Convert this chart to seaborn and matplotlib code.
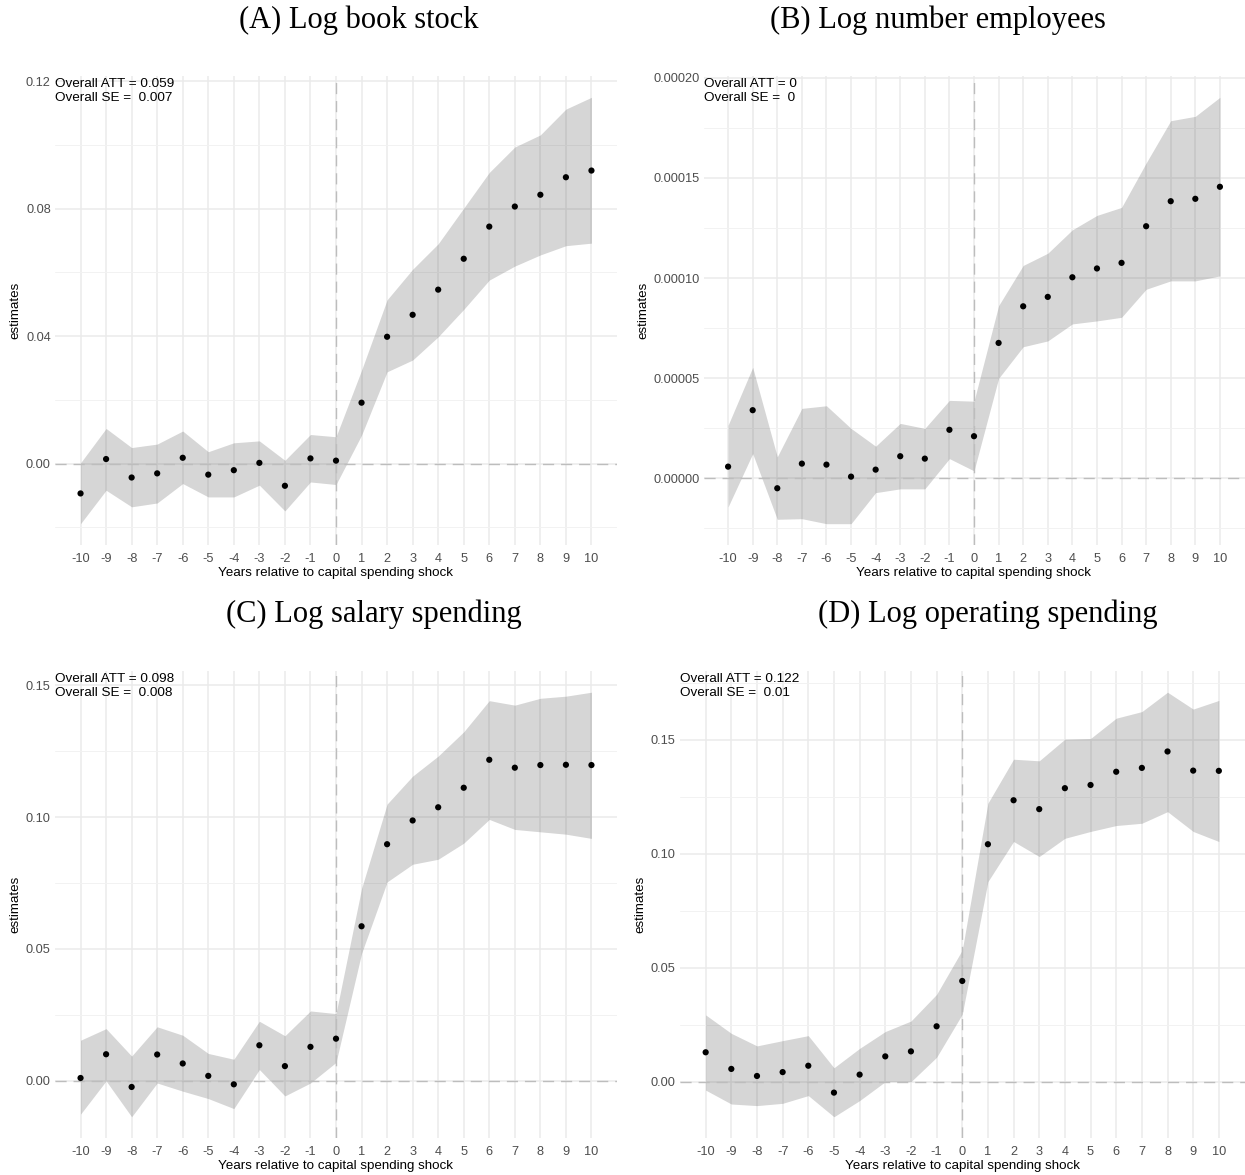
import matplotlib
matplotlib.use("Agg")
import matplotlib.pyplot as plt
import seaborn as sns
import pandas as pd
import numpy as np
from matplotlib.ticker import FixedLocator

# ---------------- data ----------------
years = [-10, -9, -8, -7, -6, -5, -4, -3, -2, -1, 0, 1, 2, 3, 4, 5, 6, 7, 8, 9, 10]
year_labels = [str(y) for y in years]

a_est = [-0.0094, 0.0014, -0.0044, -0.0031, 0.0018, -0.0035, -0.0021, 0.0002, -0.0070, 0.0016, 0.0009,
         0.0191, 0.0398, 0.0467, 0.0546, 0.0643, 0.0744, 0.0807, 0.0844, 0.0899, 0.0920]
a_lo = [-0.0189, -0.0084, -0.0136, -0.0124, -0.0063, -0.0105, -0.0105, -0.0068, -0.0149, -0.0058, -0.0066,
        0.0089, 0.0288, 0.0325, 0.0398, 0.0484, 0.0576, 0.0620, 0.0655, 0.0684, 0.0692]
a_hi = [0.0002, 0.0110, 0.0050, 0.0061, 0.0102, 0.0037, 0.0065, 0.0071, 0.0010, 0.0091, 0.0084,
        0.0293, 0.0514, 0.0610, 0.0690, 0.0802, 0.0914, 0.0994, 0.1032, 0.1113, 0.1150]

b_est = [5.8e-6, 3.40e-5, -5.0e-6, 7.3e-6, 6.8e-6, 0.8e-6, 4.3e-6, 1.10e-5, 9.8e-6, 2.42e-5, 2.10e-5,
         6.76e-5, 8.59e-5, 9.06e-5, 1.004e-4, 1.048e-4, 1.076e-4, 1.259e-4, 1.384e-4, 1.396e-4, 1.456e-4]
b_lo = [-1.43e-5, 1.23e-5, -2.05e-5, -2.02e-5, -2.27e-5, -2.27e-5, -7.2e-6, -5.3e-6, -5.3e-6, 9.8e-6, 3.7e-6,
        4.99e-5, 6.57e-5, 6.86e-5, 7.71e-5, 7.86e-5, 8.04e-5, 9.44e-5, 9.86e-5, 9.86e-5, 1.011e-4]
b_hi = [2.65e-5, 5.54e-5, 1.07e-5, 3.49e-5, 3.62e-5, 2.49e-5, 1.60e-5, 2.74e-5, 2.49e-5, 3.89e-5, 3.85e-5,
        8.62e-5, 1.063e-4, 1.124e-4, 1.241e-4, 1.313e-4, 1.353e-4, 1.575e-4, 1.786e-4, 1.808e-4, 1.903e-4]

c_est = [0.0011, 0.0101, -0.0023, 0.0100, 0.0066, 0.0019, -0.0013, 0.0135, 0.0056, 0.0129, 0.0160,
         0.0586, 0.0897, 0.0987, 0.1037, 0.1111, 0.1217, 0.1187, 0.1197, 0.1198, 0.1197]
c_lo = [-0.0126, 0.0000, -0.0136, -0.0008, -0.0039, -0.0067, -0.0105, 0.0043, -0.0057, -0.0008, 0.0070,
        0.0483, 0.0754, 0.0821, 0.0840, 0.0901, 0.0991, 0.0953, 0.0944, 0.0935, 0.0919]
c_hi = [0.0154, 0.0198, 0.0094, 0.0205, 0.0173, 0.0104, 0.0082, 0.0226, 0.0171, 0.0265, 0.0255,
        0.0729, 0.1049, 0.1155, 0.1231, 0.1323, 0.1441, 0.1424, 0.1450, 0.1458, 0.1473]

d_est = [0.0129, 0.0056, 0.0025, 0.0042, 0.0070, -0.0048, 0.0031, 0.0111, 0.0133, 0.0243, 0.0442,
         0.1042, 0.1235, 0.1196, 0.1288, 0.1302, 0.1360, 0.1377, 0.1449, 0.1365, 0.1364]
d_lo = [-0.0037, -0.0098, -0.0105, -0.0095, -0.0061, -0.0154, -0.0083, 0.0000, 0.0000, 0.0107, 0.0296,
        0.0878, 0.1054, 0.0988, 0.1068, 0.1098, 0.1124, 0.1134, 0.1185, 0.1098, 0.1054]
d_hi = [0.0293, 0.0212, 0.0157, 0.0180, 0.0202, 0.0061, 0.0146, 0.0220, 0.0266, 0.0383, 0.0578,
        0.1222, 0.1415, 0.1408, 0.1503, 0.1506, 0.1595, 0.1624, 0.1709, 0.1635, 0.1673]

titles = ["(A) Log book stock", "(B) Log number employees",
          "(C) Log salary spending", "(D) Log operating spending"]
att_texts = ["Overall ATT = 0.059\nOverall SE =  0.007",
             "Overall ATT = 0\nOverall SE =  0",
             "Overall ATT = 0.098\nOverall SE =  0.008",
             "Overall ATT = 0.122\nOverall SE =  0.01"]
a_ticks = [0.00, 0.04, 0.08, 0.12]
a_ticklabels = ["0.00", "0.04", "0.08", "0.12"]
b_ticks = [0.0, 0.00005, 0.00010, 0.00015, 0.00020]
b_ticklabels = ["0.00000", "0.00005", "0.00010", "0.00015", "0.00020"]
cd_ticks = [0.00, 0.05, 0.10, 0.15]
cd_ticklabels = ["0.00", "0.05", "0.10", "0.15"]
x_label = "Years relative to capital spending shock"
y_label = "estimates"

# ---------------- style ----------------
sns.set_theme(style="white")
plt.rcParams['font.family'] = ['Liberation Sans', 'DejaVu Sans']

W, H = 1245, 1175
fig = plt.figure(figsize=(W / 100, H / 100), dpi=100)
fig.patch.set_facecolor("white")


def panel(box, est, lo, hi, ticks, ticklabels, att, title, title_x, title_base):
    l, r, t, b = box
    ax = fig.add_axes([l / W, 1 - b / H, (r - l) / W, (b - t) / H])
    ax.set_facecolor("white")
    df = pd.DataFrame({"year": years, "est": est, "lo": lo, "hi": hi})
    ymin, ymax = min(lo), max(hi)
    pad = 0.05 * (ymax - ymin)
    ax.set_ylim(ymin - pad, ymax + pad)
    ax.set_xlim(-11, 11)

    step = ticks[1] - ticks[0]
    minors = [ticks[0] - step / 2 + k * step for k in range(len(ticks) + 1)]
    ax.set_yticks(ticks)
    ax.set_yticklabels(ticklabels)
    ax.yaxis.set_minor_locator(FixedLocator(minors))
    ax.set_xticks(years)
    ax.set_xticklabels(year_labels)
    ax.grid(which="major", color="#EBEBEB", lw=1.1, zorder=0)
    ax.grid(which="minor", axis="y", color="#F2F2F2", lw=0.7, zorder=0)
    ax.set_axisbelow(True)
    for s in ax.spines.values():
        s.set_visible(False)
    ax.tick_params(axis="both", which="both", length=0, colors="#4D4D4D", labelsize=9.2)
    ax.tick_params(axis="x", pad=5.5)
    ax.tick_params(axis="y", pad=3)

    ax.fill_between(df["year"], df["lo"], df["hi"], color="#333333", alpha=0.2, lw=0, zorder=2)
    ax.axhline(0, color="#BDBDBD", lw=1.0, dashes=(8, 5), zorder=3)
    ax.axvline(0, color="#BDBDBD", lw=1.0, dashes=(8, 5), zorder=3)
    sns.scatterplot(data=df, x="year", y="est", color="black", s=20, edgecolor="none",
                    ax=ax, zorder=4, legend=False)

    ax.set_xlabel(x_label, fontsize=9.6, color="black", labelpad=1.5)
    ax.set_ylabel(y_label, fontsize=9.6, color="black", labelpad=3)
    ax.text(0.0, 0.996, att, transform=ax.transAxes, ha="left", va="top",
            fontsize=9.7, color="black", linespacing=1.25, zorder=5)
    fig.text(title_x / W, 1 - title_base / H, title, ha="center", va="baseline",
             family=["Liberation Serif", "DejaVu Serif"], fontsize=22, color="black")
    return ax


panel((55, 617, 76, 545), a_est, a_lo, a_hi, a_ticks, a_ticklabels, att_texts[0], titles[0], 359, 28)
panel((703.5, 1244.5, 76, 545), b_est, b_lo, b_hi, b_ticks, b_ticklabels, att_texts[1], titles[1], 938, 28)
panel((55, 617, 671, 1138), c_est, c_lo, c_hi, cd_ticks, cd_ticklabels, att_texts[2], titles[2], 374, 622)
panel((680, 1244.5, 671, 1138), d_est, d_lo, d_hi, cd_ticks, cd_ticklabels, att_texts[3], titles[3], 988, 622)

fig.savefig("out.png", dpi=100, facecolor="white")
